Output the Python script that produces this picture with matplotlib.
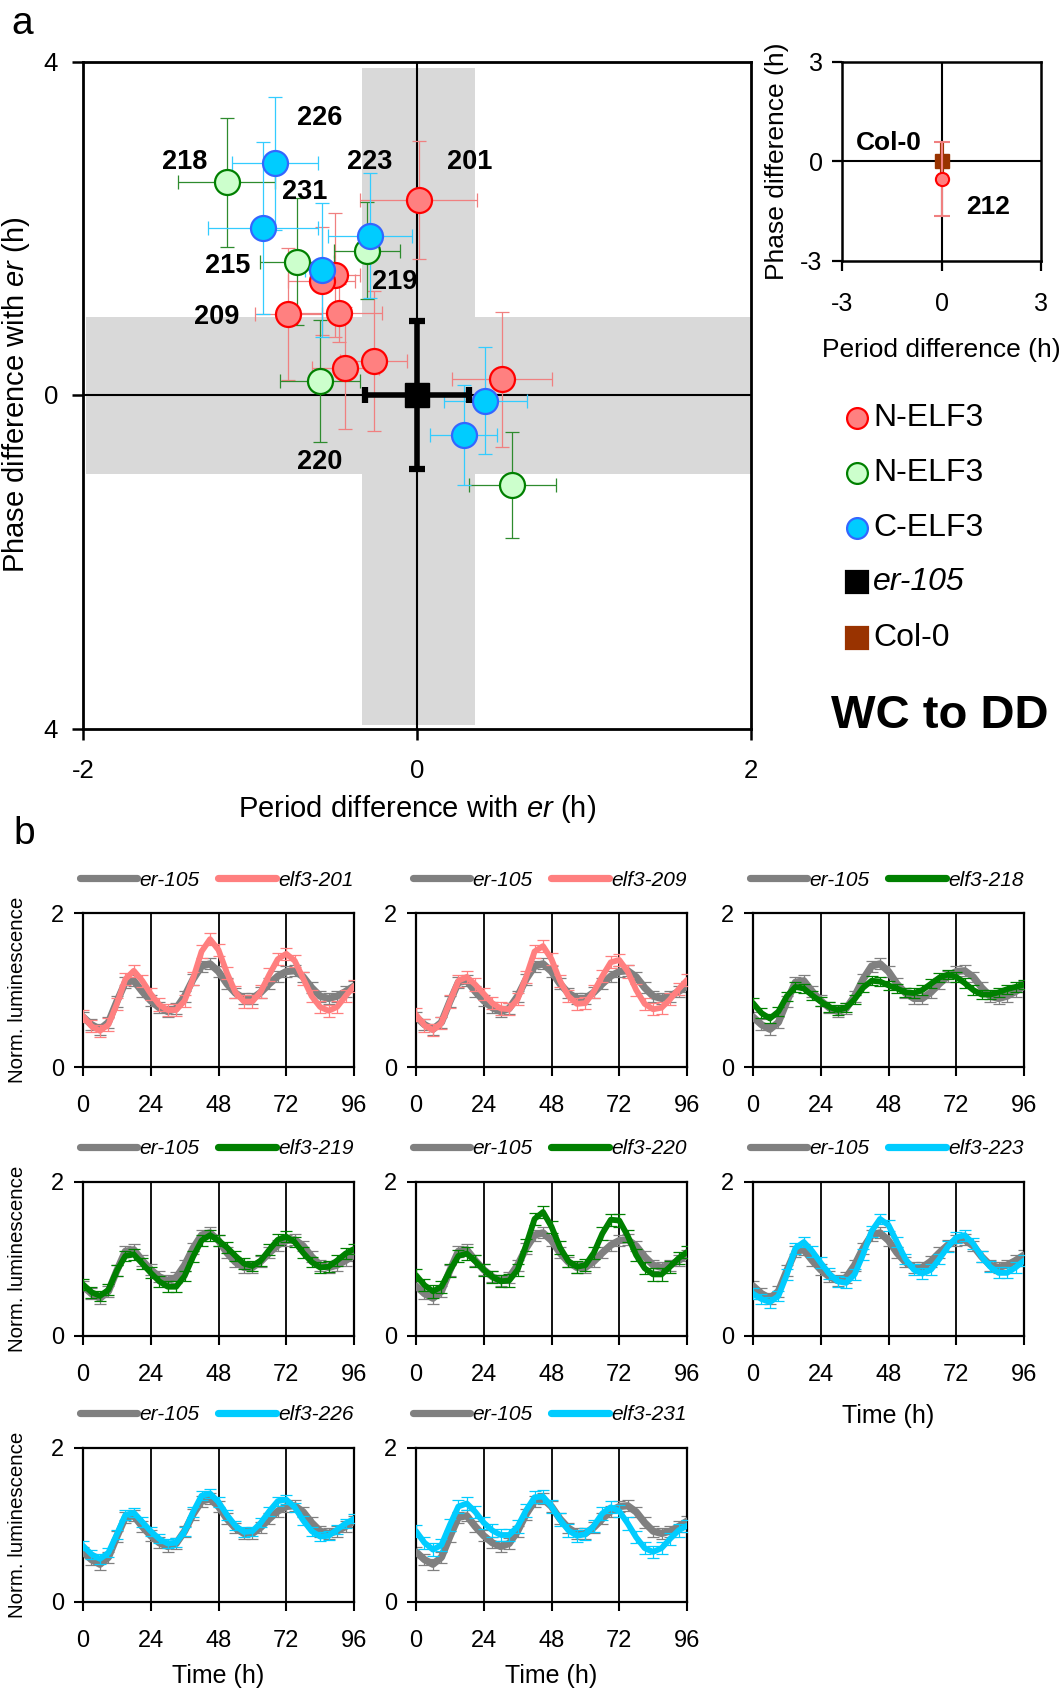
import matplotlib
matplotlib.use('Agg')
import matplotlib.pyplot as plt
from matplotlib.lines import Line2D

plt.rcParams['font.family'] = ['Liberation Sans', 'DejaVu Sans']
plt.rcParams['mathtext.fontset'] = 'custom'
plt.rcParams['mathtext.rm'] = 'Liberation Sans'
plt.rcParams['mathtext.it'] = 'Liberation Sans:italic'
plt.rcParams['mathtext.bf'] = 'Liberation Sans:bold'
plt.rcParams['axes.unicode_minus'] = False

# ---------------- Panel a data ----------------
red_x = [0.01, -0.49, -0.57, -0.77, -0.47, -0.26, -0.43, 0.51]
red_y = [2.34, 1.44, 1.37, 0.97, 0.98, 0.41, 0.32, 0.19]
red_xerr = [0.35, 0.15, 0.20, 0.20, 0.26, 0.20, 0.20, 0.30]
red_yerr = [0.71, 0.74, 0.65, 0.79, 0.35, 0.84, 0.73, 0.81]

green_x = [-1.14, -0.72, -0.30, -0.58, 0.57]
green_y = [2.55, 1.60, 1.73, 0.17, -1.08]
green_xerr = [0.29, 0.22, 0.20, 0.24, 0.26]
green_yerr = [0.77, 0.76, 0.58, 0.73, 0.64]

blue_x = [-0.85, -0.92, -0.57, -0.28, 0.41, 0.28]
blue_y = [2.78, 2.00, 1.50, 1.91, -0.07, -0.48]
blue_xerr = [0.26, 0.33, 0.10, 0.25, 0.25, 0.20]
blue_yerr = [0.80, 1.03, 0.80, 0.75, 0.64, 0.60]

er_x, er_y, er_xerr, er_yerr = 0.0, 0.0, 0.31, 0.89
band_x = [-0.33, 0.35]
band_y = [-0.95, 0.93]

line_labels = ['226', '218', '223', '201', '231', '215', '219', '209', '220']
label_x = [-0.58, -1.39, -0.285, 0.314, -0.674, -1.134, -0.131, -1.20, -0.581]
label_y = [3.32, 2.79, 2.80, 2.79, 2.43, 1.55, 1.35, 0.94, -0.80]

# inset
col_x, col_y, col_yerr = 0.0, 0.0, 0.55
l212_x, l212_y, l212_yerr = 0.0, -0.53, 1.12
inset_labels = ['Col-0', '212']
inset_label_x = [-1.58, 1.41]
inset_label_y = [0.55, -1.39]

legend_names = ['N-ELF3', 'N-ELF3', 'C-ELF3', 'er-105', 'Col-0']

# ---------------- Panel b data ----------------
TIME_H = [0, 3, 6, 9, 12, 15, 18, 21, 24, 27, 30, 33, 36, 39, 42, 45, 48,
          51, 54, 57, 60, 63, 66, 69, 72, 75, 78, 81, 84, 87, 90, 93, 96]
er105 = [0.65, 0.55, 0.49, 0.58, 0.85, 1.10, 1.12, 0.98, 0.86, 0.77, 0.72, 0.76,
         0.92, 1.14, 1.31, 1.34, 1.24, 1.08, 0.96, 0.89, 0.89, 0.97, 1.08, 1.18,
         1.24, 1.25, 1.17, 1.03, 0.92, 0.89, 0.92, 0.98, 1.05]
er105_sem = 0.07
elf3_201 = [0.66, 0.53, 0.47, 0.55, 0.82, 1.14, 1.25, 1.12, 0.95, 0.81, 0.74, 0.74,
            0.86, 1.15, 1.50, 1.66, 1.52, 1.22, 0.97, 0.85, 0.85, 0.98, 1.20, 1.40,
            1.47, 1.38, 1.15, 0.92, 0.78, 0.73, 0.78, 0.92, 1.05]
elf3_209 = [0.68, 0.54, 0.48, 0.57, 0.85, 1.12, 1.17, 1.07, 0.95, 0.83, 0.76, 0.75,
            0.88, 1.17, 1.50, 1.57, 1.40, 1.12, 0.92, 0.82, 0.83, 0.98, 1.18, 1.36,
            1.39, 1.24, 1.00, 0.82, 0.75, 0.77, 0.88, 1.01, 1.13]
elf3_218 = [0.83, 0.70, 0.63, 0.72, 0.92, 1.04, 1.02, 0.93, 0.85, 0.78, 0.74, 0.77,
            0.88, 1.03, 1.12, 1.11, 1.06, 1.02, 0.97, 0.96, 1.00, 1.08, 1.16, 1.20,
            1.17, 1.09, 1.00, 0.94, 0.94, 0.97, 1.01, 1.04, 1.07]
elf3_219 = [0.67, 0.57, 0.52, 0.60, 0.85, 1.04, 1.06, 0.94, 0.82, 0.71, 0.64, 0.64,
            0.78, 1.03, 1.24, 1.31, 1.24, 1.15, 1.04, 0.94, 0.91, 0.98, 1.12, 1.25,
            1.29, 1.22, 1.08, 0.96, 0.89, 0.90, 0.98, 1.07, 1.13]
elf3_220 = [0.79, 0.66, 0.58, 0.64, 0.85, 1.04, 1.07, 0.97, 0.86, 0.77, 0.71, 0.72,
            0.86, 1.18, 1.52, 1.61, 1.42, 1.15, 0.97, 0.90, 0.92, 1.08, 1.33, 1.51,
            1.50, 1.30, 1.05, 0.88, 0.80, 0.80, 0.90, 1.01, 1.09]
elf3_223 = [0.55, 0.48, 0.44, 0.52, 0.80, 1.14, 1.22, 1.10, 0.95, 0.81, 0.71, 0.69,
            0.80, 1.06, 1.36, 1.52, 1.44, 1.22, 1.00, 0.86, 0.81, 0.86, 1.00, 1.16,
            1.28, 1.31, 1.20, 1.03, 0.90, 0.82, 0.82, 0.89, 0.98]
elf3_226 = [0.73, 0.62, 0.56, 0.64, 0.88, 1.13, 1.16, 1.04, 0.92, 0.82, 0.76, 0.77,
            0.92, 1.17, 1.38, 1.41, 1.30, 1.13, 0.99, 0.91, 0.92, 1.03, 1.18, 1.31,
            1.33, 1.23, 1.06, 0.92, 0.85, 0.86, 0.94, 1.02, 1.08]
elf3_231 = [0.92, 0.77, 0.68, 0.74, 1.00, 1.24, 1.28, 1.17, 1.03, 0.93, 0.87, 0.87,
            0.98, 1.19, 1.36, 1.37, 1.24, 1.07, 0.93, 0.86, 0.88, 0.99, 1.15, 1.23,
            1.18, 1.02, 0.84, 0.70, 0.65, 0.70, 0.82, 0.93, 0.99]
mutant_names = ['elf3-201', 'elf3-209', 'elf3-218', 'elf3-219', 'elf3-220',
                'elf3-223', 'elf3-226', 'elf3-231']
mutant_sem = [0.08, 0.08, 0.06, 0.07, 0.08, 0.07, 0.06, 0.08]
mutant_group = ['red', 'red', 'green', 'green', 'green', 'blue', 'blue', 'blue']
mutant_series = [elf3_201, elf3_209, elf3_218, elf3_219, elf3_220,
                 elf3_223, elf3_226, elf3_231]

# ---------------- styles ----------------
RED_FILL, RED_EDGE, RED_ERR = '#FF8080', '#FF0000', '#F08080'
GREEN_FILL, GREEN_EDGE, GREEN_ERR = '#CCFFCC', '#008000', '#2E8B2E'
BLUE_FILL, BLUE_EDGE, BLUE_ERR = '#00CCFF', '#3366FF', '#33CCFF'
BROWN = '#993300'
BAND = '#D9D9D9'
LINE_COL = {'red': '#FF7F7F', 'green': '#008000', 'blue': '#00CCFF'}
GREY = '#808080'

W, H = 1063, 1693
fig = plt.figure(figsize=(W / 100, H / 100), dpi=100)


def fx(px):
    return px / W


def fy(py):
    return 1 - py / H


def box(l, t, r, b):
    return [l / W, 1 - b / H, (r - l) / W, (b - t) / H]


# ================= Panel a main =================
ax = fig.add_axes(box(83, 61.5, 751, 728.5))
ax.set_xlim(-2, 2)
ax.set_ylim(-4, 4)
ax.axvspan(band_x[0], band_x[1], ymin=0.005, ymax=0.99, color=BAND, lw=0, zorder=0)
ax.axhspan(band_y[0], band_y[1], xmin=0.004, xmax=1, color=BAND, lw=0, zorder=0)
ax.axvline(0, color='black', lw=1.5, zorder=1)
ax.axhline(0, color='black', lw=1.5, zorder=1)

ms_main = 18
for xs, ys, xe, ye, erc in [
        (red_x, red_y, red_xerr, red_yerr, RED_ERR),
        (green_x, green_y, green_xerr, green_yerr, GREEN_ERR),
        (blue_x, blue_y, blue_xerr, blue_yerr, BLUE_ERR)]:
    ax.errorbar(xs, ys, xerr=xe, yerr=ye, fmt='none', ecolor=erc, elinewidth=0.9,
                capsize=5, capthick=0.9, zorder=2)
for xs, ys, fc, ec in [(red_x, red_y, RED_FILL, RED_EDGE),
                       (green_x, green_y, GREEN_FILL, GREEN_EDGE),
                       (blue_x, blue_y, BLUE_FILL, BLUE_EDGE)]:
    ax.plot(xs, ys, 'o', ms=ms_main, mfc=fc, mec=ec, mew=1.6, ls='none', zorder=3)

ax.errorbar([er_x], [er_y], xerr=[er_xerr], yerr=[er_yerr], fmt='none', ecolor='black',
            elinewidth=4, capsize=6, capthick=4.5, zorder=4)
ax.plot([er_x], [er_y], 's', ms=17, color='black', zorder=5)

for s, x, y in zip(line_labels, label_x, label_y):
    ax.text(x, y, s, ha='center', va='center', fontsize=19.5, fontweight='bold', zorder=6)

for sp in ax.spines.values():
    sp.set_linewidth(2)
ax.set_xticks([-2, 0, 2])
ax.set_xticklabels(['-2', '0', '2'])
ax.set_yticks([-4, 0, 4])
ax.set_yticklabels(['4', '0', '4'])
ax.tick_params(direction='out', length=8, width=1.8, labelsize=18.5)
ax.tick_params(axis='x', pad=14)
ax.tick_params(axis='y', pad=10)
ax.set_xlabel('Period difference with $er$ (h)', fontsize=21)
ax.set_ylabel('Phase difference with $er$ (h)', fontsize=21)
ax.xaxis.set_label_coords(0.5, (728.5 - 793) / 667)
ax.yaxis.set_label_coords((32 - 83) / 668, 0.5)

# ================= Panel a inset =================
ai = fig.add_axes(box(842, 61.5, 1041, 261))
ai.set_xlim(-3, 3)
ai.set_ylim(-3, 3)
ai.axvline(0, color='black', lw=1.5, zorder=1)
ai.axhline(0, color='black', lw=1.5, zorder=1)
ai.errorbar([col_x], [col_y], yerr=[col_yerr], fmt='none', ecolor=BROWN, elinewidth=3,
            capsize=0, zorder=2)
ai.plot([col_x], [col_y], 's', ms=10, color=BROWN, zorder=3)
ai.errorbar([l212_x], [l212_y], yerr=[l212_yerr], fmt='none', ecolor=RED_ERR, elinewidth=1.5,
            capsize=6, capthick=1.5, zorder=4)
ai.plot([l212_x], [l212_y], 'o', ms=9.5, mfc=RED_FILL, mec=RED_EDGE, mew=1.5, zorder=5)
for s, x, y in zip(inset_labels, inset_label_x, inset_label_y):
    ai.text(x, y, s, ha='center', va='center', fontsize=19, fontweight='bold', zorder=6)
for sp in ai.spines.values():
    sp.set_linewidth(1.8)
ai.set_xticks([-3, 0, 3])
ai.set_yticks([-3, 0, 3])
ai.tick_params(direction='out', length=7, width=1.6, labelsize=18)
ai.tick_params(axis='x', pad=15)
ai.tick_params(axis='y', pad=7)
ai.set_xlabel('Period difference (h)', fontsize=19)
ai.set_ylabel('Phase difference (h)', fontsize=19)
ai.xaxis.set_label_coords(0.5, (261 - 338) / 199.5)
ai.yaxis.set_label_coords((789 - 842) / 199, 0.5)

# legend panel a
leg_y = [418, 473, 528, 582, 638]
leg_style = [('o', RED_FILL, RED_EDGE), ('o', GREEN_FILL, GREEN_EDGE),
             ('o', BLUE_FILL, BLUE_EDGE), ('s', 'black', 'black'), ('s', BROWN, BROWN)]
for name, y, (mk, fc, ec) in zip(legend_names, leg_y, leg_style):
    fig.add_artist(Line2D([fx(857)], [fy(y)], marker=mk, ms=15 if mk == 'o' else 15.5,
                          mfc=fc, mec=ec, mew=1.6, ls='none', transform=fig.transFigure))
    style = 'italic' if name == 'er-105' else 'normal'
    fig.text(fx(873), fy(y), name, fontsize=23, style=style, ha='left', va='center')

fig.text(fx(940), fy(716), 'WC to DD', fontsize=34, fontweight='bold', ha='center', va='center')
fig.text(fx(22), fy(24), 'a', fontsize=28, ha='center', va='center')
fig.text(fx(24), fy(834), 'b', fontsize=28, ha='center', va='center')

# ================= Panel b =================
col_left = [83, 416, 753]
col_w = 271
row_top = [913, 1182, 1448]
row_h = 154

for i, (name, vals, sem, grp) in enumerate(zip(mutant_names, mutant_series, mutant_sem, mutant_group)):
    r, c = divmod(i, 3)
    l, t = col_left[c], row_top[r]
    a = fig.add_axes(box(l, t, l + col_w, t + row_h))
    col = LINE_COL[grp]
    a.errorbar(TIME_H, er105, yerr=er105_sem, fmt='none', ecolor=GREY, elinewidth=0.9,
               capsize=4.5, capthick=0.9, zorder=2)
    a.plot(TIME_H, er105, color=GREY, lw=5.2, solid_joinstyle='round',
           solid_capstyle='round', zorder=3)
    a.errorbar(TIME_H, vals, yerr=sem, fmt='none', ecolor=col, elinewidth=0.9,
               capsize=4.5, capthick=0.9, zorder=4)
    a.plot(TIME_H, vals, color=col, lw=4.2, solid_joinstyle='round',
           solid_capstyle='round', zorder=5)
    a.set_xlim(0, 96)
    a.set_ylim(0, 2)
    for xv in [24, 48, 72]:
        a.axvline(xv, color='black', lw=1.3, zorder=1)
    for sp in a.spines.values():
        sp.set_linewidth(1.6)
    a.set_xticks([0, 24, 48, 72, 96])
    a.set_yticks([0, 2])
    a.tick_params(direction='out', length=6.5, width=1.5, labelsize=17)
    a.tick_params(axis='x', pad=14)
    a.tick_params(axis='y', pad=7)
    if c == 0:
        a.set_ylabel('Norm. luminescence', fontsize=14.8)
        a.yaxis.set_label_coords((27 - l) / col_w, 0.5)
    # legend above
    ly = t - 35
    fig.add_artist(Line2D([fx(l - 3), fx(l + 54)], [fy(ly), fy(ly)], color=GREY, lw=5.2,
                          solid_capstyle='round', transform=fig.transFigure))
    fig.text(fx(l + 56), fy(ly + 2), 'er-105', fontsize=15, style='italic',
             ha='left', va='center')
    fig.add_artist(Line2D([fx(l + 135), fx(l + 193)], [fy(ly), fy(ly)], color=col, lw=5.2,
                          solid_capstyle='round', transform=fig.transFigure))
    fig.text(fx(l + 195), fy(ly + 2), name, fontsize=15, style='italic',
             ha='left', va='center')

# x-axis labels "Time (h)"
fig.text(fx(753 + col_w / 2), fy(1416), 'Time (h)', fontsize=18, ha='center', va='center')
fig.text(fx(83 + col_w / 2), fy(1676), 'Time (h)', fontsize=18, ha='center', va='center')
fig.text(fx(416 + col_w / 2), fy(1676), 'Time (h)', fontsize=18, ha='center', va='center')

fig.savefig('out.png', dpi=100)
